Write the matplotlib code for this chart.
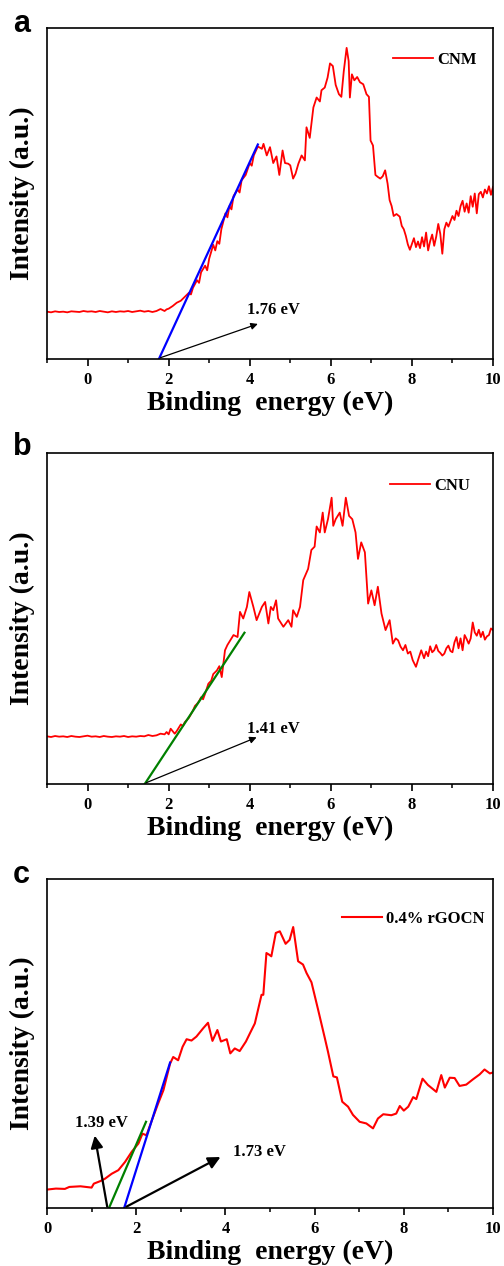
import matplotlib
matplotlib.use('Agg')
import matplotlib.pyplot as plt
from matplotlib.ticker import MultipleLocator

# ---- panel a : CNM ----
x_a = [-1.0, -0.9, -0.8, -0.7, -0.6, -0.5, -0.4, -0.3, -0.2, -0.1, 0.0, 0.1, 0.2, 0.3, 0.4,
       0.5, 0.6, 0.7, 0.8, 0.9, 1.0, 1.1, 1.2, 1.3, 1.4, 1.5, 1.6, 1.7, 1.8, 1.9, 1.95,
       2.0, 2.1, 2.2, 2.3, 2.4, 2.5, 2.55, 2.6, 2.7, 2.75, 2.8, 2.9, 2.95, 3.0, 3.1, 3.15,
       3.2, 3.25, 3.3, 3.4, 3.45, 3.5, 3.55, 3.6, 3.7, 3.75, 3.8, 3.9, 4.0, 4.05, 4.1, 4.2,
       4.3, 4.34, 4.42, 4.5, 4.58, 4.66, 4.73, 4.81, 4.87, 4.95, 5.0, 5.07, 5.13, 5.2, 5.28,
       5.36, 5.4, 5.48, 5.57, 5.65, 5.73, 5.77, 5.85, 5.92, 5.98, 6.05, 6.12, 6.2, 6.26, 6.32,
       6.39, 6.44, 6.47, 6.52, 6.58, 6.65, 6.72, 6.8, 6.88, 6.94, 6.98, 7.04, 7.1, 7.16, 7.22,
       7.28, 7.34, 7.4, 7.45, 7.5, 7.55, 7.62, 7.7, 7.75, 7.8, 7.85, 7.9, 7.95, 8.0, 8.05, 8.1,
       8.15, 8.2, 8.25, 8.3, 8.35, 8.4, 8.45, 8.5, 8.55, 8.6, 8.65, 8.7, 8.75, 8.8, 8.85, 8.9,
       8.95, 9.0, 9.05, 9.1, 9.15, 9.2, 9.25, 9.3, 9.35, 9.4, 9.45, 9.5, 9.55, 9.6, 9.65, 9.7,
       9.75, 9.8, 9.85, 9.9, 9.95, 10.0]
y_a = [0.143, 0.141, 0.144, 0.142, 0.143, 0.141, 0.144, 0.143, 0.142, 0.145, 0.143, 0.144,
       0.142, 0.145, 0.143, 0.141, 0.144, 0.142, 0.144, 0.143, 0.145, 0.142, 0.144, 0.146,
       0.143, 0.145, 0.142, 0.145, 0.151, 0.145, 0.150,
       0.152, 0.160, 0.170, 0.176, 0.188, 0.200, 0.195, 0.215, 0.238, 0.230, 0.262, 0.282,
       0.268, 0.303, 0.345, 0.328, 0.356, 0.348, 0.392, 0.440, 0.428, 0.462, 0.452, 0.492,
       0.512, 0.503, 0.540, 0.556, 0.592, 0.584, 0.615, 0.642,
       0.635, 0.650, 0.615, 0.640, 0.592, 0.612, 0.556, 0.630, 0.592, 0.590, 0.585, 0.545,
       0.560, 0.590, 0.615, 0.600, 0.700, 0.668, 0.760, 0.790, 0.778, 0.812, 0.820, 0.850,
       0.893, 0.885, 0.828, 0.800, 0.792, 0.870,
       0.940, 0.900, 0.790, 0.860, 0.842, 0.852, 0.836, 0.830, 0.800, 0.792, 0.660, 0.645,
       0.556, 0.550, 0.545, 0.552, 0.570, 0.530, 0.480, 0.462, 0.432, 0.438, 0.430, 0.402,
       0.392, 0.372, 0.346, 0.330, 0.348, 0.365, 0.338, 0.355, 0.335, 0.368, 0.340, 0.382,
       0.328, 0.356, 0.376, 0.342, 0.370, 0.408, 0.378, 0.318, 0.392, 0.412, 0.400, 0.416,
       0.432, 0.420, 0.448, 0.432, 0.462, 0.478, 0.445, 0.470, 0.442, 0.492, 0.460, 0.500,
       0.440, 0.498, 0.505, 0.488, 0.512, 0.500, 0.522, 0.496, 0.520]

# ---- panel b : CNU ----
x_b = [-1.0, -0.9, -0.8, -0.7, -0.6, -0.5, -0.4, -0.3, -0.2, -0.1, 0.0, 0.1, 0.2, 0.3, 0.4,
       0.5, 0.6, 0.7, 0.8, 0.9, 1.0, 1.1, 1.2, 1.3, 1.4, 1.5, 1.6, 1.7, 1.8, 1.9, 1.95, 2.0,
       2.05, 2.15, 2.2, 2.3, 2.35, 2.4, 2.5, 2.6, 2.65, 2.7, 2.75, 2.8, 2.85, 2.9, 2.98, 3.05,
       3.1, 3.19, 3.25, 3.31, 3.39, 3.45, 3.52, 3.6, 3.7, 3.76, 3.84, 3.93, 3.99, 4.09, 4.17,
       4.3, 4.38, 4.46, 4.52, 4.58, 4.65, 4.7, 4.83, 4.95, 5.03, 5.07, 5.16, 5.24, 5.32, 5.44,
       5.52, 5.6, 5.65, 5.73, 5.8, 5.85, 5.93, 6.02, 6.06, 6.12, 6.22, 6.29, 6.37, 6.45, 6.53,
       6.61, 6.67, 6.75, 6.84, 6.92, 7.0, 7.08, 7.16, 7.25, 7.35, 7.45, 7.53, 7.6, 7.66, 7.72,
       7.78, 7.84, 7.9, 7.96, 8.02, 8.1, 8.16, 8.23, 8.3, 8.35, 8.4, 8.45, 8.5, 8.55, 8.6, 8.65,
       8.7, 8.75, 8.8, 8.85, 8.9, 8.95, 9.0, 9.05, 9.1, 9.15, 9.2, 9.25, 9.3, 9.35, 9.4, 9.45,
       9.5, 9.55, 9.6, 9.65, 9.7, 9.75, 9.8, 9.85, 9.9, 9.95, 10.0]
y_b = [0.144, 0.142, 0.145, 0.143, 0.144, 0.142, 0.145, 0.143, 0.142, 0.144, 0.146, 0.143,
       0.144, 0.142, 0.145, 0.143, 0.142, 0.144, 0.143, 0.145, 0.142, 0.144, 0.143, 0.145,
       0.144, 0.148, 0.145, 0.147, 0.152, 0.150, 0.157, 0.150,
       0.167, 0.152, 0.160, 0.180, 0.175, 0.187, 0.200, 0.222, 0.236, 0.242, 0.250, 0.262,
       0.256, 0.273, 0.303, 0.312, 0.332, 0.343, 0.356, 0.323, 0.404, 0.420, 0.434, 0.450,
       0.444, 0.520, 0.500, 0.535, 0.580, 0.535, 0.495,
       0.535, 0.550, 0.485, 0.535, 0.525, 0.555, 0.500, 0.475, 0.495, 0.475, 0.525, 0.505,
       0.535, 0.616, 0.650, 0.707, 0.717, 0.778, 0.760, 0.820, 0.760, 0.800, 0.865, 0.780,
       0.800, 0.820, 0.780, 0.865, 0.810, 0.800,
       0.760, 0.680, 0.730, 0.700, 0.545, 0.585, 0.540, 0.596, 0.515, 0.465, 0.495, 0.424,
       0.440, 0.434, 0.415, 0.404, 0.420, 0.394, 0.400, 0.374, 0.354, 0.378, 0.404, 0.380,
       0.400, 0.386, 0.416, 0.398, 0.404, 0.420, 0.402, 0.396, 0.388, 0.394, 0.410, 0.418,
       0.402, 0.398, 0.428, 0.444, 0.410, 0.440, 0.404, 0.450, 0.438, 0.424, 0.440, 0.488,
       0.458, 0.448, 0.466, 0.444, 0.460, 0.436, 0.446, 0.450, 0.470, 0.465]

# ---- panel c : 0.4% rGOCN ----
x_c = [0.0, 0.2, 0.4, 0.5, 0.75, 1.0, 1.05, 1.2, 1.3, 1.45, 1.6, 1.75, 1.9, 2.05, 2.14,
       2.23, 2.35, 2.49, 2.61, 2.76, 2.83, 2.94, 3.04, 3.13, 3.24, 3.35, 3.5, 3.61, 3.71,
       3.82, 3.9, 4.03, 4.11, 4.21, 4.32, 4.46, 4.55, 4.66, 4.81, 4.85, 4.92, 4.98, 5.03,
       5.13, 5.22, 5.35, 5.44, 5.52, 5.63, 5.74, 5.82, 5.93, 6.08, 6.23, 6.3, 6.42, 6.5,
       6.62, 6.75, 6.86, 7.01, 7.16, 7.31, 7.42, 7.54, 7.72, 7.83, 7.91, 8.0, 8.1, 8.21,
       8.28, 8.42, 8.54, 8.73, 8.84, 8.92, 9.03, 9.14, 9.25, 9.4, 9.55, 9.7, 9.81, 9.93, 10.0]
y_c = [0.056, 0.059, 0.058, 0.064, 0.066, 0.062, 0.074, 0.082, 0.089, 0.104, 0.115, 0.140,
       0.171, 0.196, 0.226, 0.221, 0.266, 0.317, 0.358, 0.439, 0.459, 0.449, 0.490, 0.513,
       0.509, 0.521, 0.546, 0.563, 0.508, 0.541, 0.506, 0.513, 0.470, 0.485, 0.477, 0.506,
       0.531, 0.561, 0.648, 0.648, 0.775, 0.770, 0.765, 0.836, 0.841, 0.803, 0.815, 0.854,
       0.750, 0.740, 0.714, 0.686, 0.602, 0.516, 0.475, 0.400, 0.397, 0.323, 0.308, 0.283,
       0.262, 0.257, 0.242, 0.272, 0.285, 0.282, 0.287, 0.310, 0.296, 0.308, 0.337, 0.331,
       0.393, 0.374, 0.353, 0.404, 0.366, 0.396, 0.395, 0.371, 0.375, 0.391, 0.406, 0.421,
       0.409, 0.412]

# tangent lines (x, y end points)
fit_a_x, fit_a_y = [1.76, 4.2], [0.0, 0.648]
fit_b_x, fit_b_y = [1.41, 3.87], [0.0, 0.457]
fit_c1_x, fit_c1_y = [1.73, 2.76], [0.0, 0.442]
fit_c2_x, fit_c2_y = [1.39, 2.22], [0.0, 0.262]

serif = 'Liberation Serif'
W, H = 504, 1266

fig = plt.figure(figsize=(W / 100, H / 100), dpi=100)


def make_axes(top_px, bottom_px, xmin):
    ax = fig.add_axes([47 / W, 1 - bottom_px / H, 446 / W, (bottom_px - top_px) / H])
    ax.set_xlim(xmin, 10)
    ax.set_ylim(0, 1)
    ax.set_yticks([])
    ax.xaxis.set_major_locator(MultipleLocator(2))
    ax.xaxis.set_minor_locator(MultipleLocator(1))
    ax.tick_params(axis='x', which='major', direction='out', length=5, width=1.2, pad=4.5,
                   labelsize=12)
    ax.tick_params(axis='x', which='minor', direction='out', length=3, width=1.1)
    for lab in ax.get_xticklabels():
        lab.set_fontfamily(serif)
        lab.set_fontweight('bold')
    for s in ax.spines.values():
        s.set_linewidth(1.2)
    ax.set_xlabel('Binding  energy (eV)', fontfamily=serif, fontweight='bold', fontsize=20,
                  va='top')
    ax.xaxis.set_label_coords(0.5, -0.096)
    ax.set_ylabel('Intensity (a.u.)', fontfamily=serif, fontweight='bold', fontsize=20)
    ax.yaxis.set_label_coords(-0.027, 0.5)
    return ax


def add_legend(ax, label, xr, yc):
    ax.legend([label], loc='center right', bbox_to_anchor=(xr, yc), frameon=False,
              handlelength=2.4, handletextpad=0.25, borderaxespad=0, borderpad=0,
              prop={'family': serif, 'weight': 'bold', 'size': 12})


def arrow(ax, tail, head, lw=0.9, ms=10):
    ax.annotate('', xy=head, xytext=tail,
                arrowprops=dict(arrowstyle='-|>', color='black', lw=lw, mutation_scale=ms,
                                shrinkA=0, shrinkB=0))


def note(ax, x, y, s):
    ax.text(x, y, s, ha='center', va='center', fontfamily=serif, fontweight='bold',
            fontsize=12)


# panel a
ax1 = make_axes(28, 359, -1)
ax1.plot(x_a, y_a, color='#ff0000', lw=1.3)
ax1.plot(fit_a_x, fit_a_y, color='#0000ff', lw=1.6)
add_legend(ax1, 'CNM', 0.964, 0.903)
arrow(ax1, (1.8, 0.004), (4.2, 0.106))
note(ax1, 4.58, 0.148, '1.76 eV')

# panel b
ax2 = make_axes(453, 784, -1)
ax2.plot(x_b, y_b, color='#ff0000', lw=1.3)
ax2.plot(fit_b_x, fit_b_y, color='#008000', lw=1.6)
add_legend(ax2, 'CNU', 0.948, 0.90)
arrow(ax2, (1.45, 0.004), (4.17, 0.141))
note(ax2, 4.58, 0.167, '1.41 eV')

# panel c
ax3 = make_axes(879, 1208, 0)
ax3.plot(x_c, y_c, color='#ff0000', lw=1.5)
ax3.plot(fit_c2_x, fit_c2_y, color='#008000', lw=1.6)
ax3.plot(fit_c1_x, fit_c1_y, color='#0000ff', lw=1.6)
add_legend(ax3, '0.4% rGOCN', 0.982, 0.878)
arrow(ax3, (1.78, 0.004), (3.89, 0.155), lw=1.6, ms=18)
arrow(ax3, (1.35, 0.004), (1.07, 0.22), lw=1.6, ms=18)
note(ax3, 4.76, 0.17, '1.73 eV')
note(ax3, 1.22, 0.259, '1.39 eV')

# panel letters
for lab, base_px in [('a', 32), ('b', 455), ('c', 883)]:
    fig.text(13 / W, 1 - base_px / H, lab, fontfamily='Liberation Sans', fontweight='bold',
             fontsize=22, ha='left', va='baseline')

fig.savefig('out.png', dpi=100)
